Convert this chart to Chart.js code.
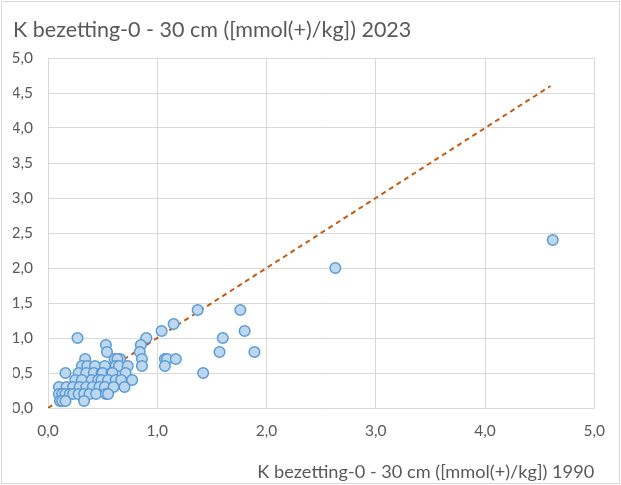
<!DOCTYPE html>
<html>
<head>
<meta charset="utf-8">
<script src="https://cdn.jsdelivr.net/npm/chart.js@4/dist/chart.umd.min.js"></script>
<style>
  body { margin: 0; background: #fff; }
  #wrap { position: absolute; left: 1px; top: 1px; width: 617px; height: 481px; border: 1px solid #d9d9d9; }
</style>
</head>
<body>
<div id="wrap"><canvas id="c" width="617" height="481"></canvas></div>
<script>
// K bezetting 1990 (x) vs 2023 (y)
var x1990 = [
  4.62, 2.63, 1.76, 1.37, 1.15, 1.04, 1.80, 0.90, 1.60, 1.57, 1.89, 1.42,
  1.07, 1.09, 1.17, 1.07, 0.27,
  0.85, 0.84, 0.86, 0.86, 0.53, 0.54,
  0.34, 0.61, 0.66, 0.635,
  0.31, 0.36, 0.43, 0.52, 0.62, 0.65, 0.73,
  0.16, 0.28, 0.35, 0.42, 0.49, 0.50, 0.58, 0.59, 0.71,
  0.25, 0.31, 0.40, 0.46, 0.49, 0.55, 0.62, 0.67, 0.77,
  0.10, 0.17, 0.23, 0.29, 0.35, 0.41, 0.47, 0.52, 0.60, 0.70,
  0.10, 0.13, 0.16, 0.20, 0.23, 0.28, 0.33, 0.38, 0.44, 0.53, 0.55,
  0.11, 0.13, 0.16, 0.33
];
var y2023 = [
  2.4, 2.0, 1.4, 1.4, 1.2, 1.1, 1.1, 1.0, 1.0, 0.8, 0.8, 0.5,
  0.7, 0.7, 0.7, 0.6, 1.0,
  0.9, 0.8, 0.7, 0.6, 0.9, 0.8,
  0.7, 0.7, 0.7, 0.7,
  0.6, 0.6, 0.6, 0.6, 0.6, 0.6, 0.6,
  0.5, 0.5, 0.5, 0.5, 0.5, 0.5, 0.5, 0.5, 0.5,
  0.4, 0.4, 0.4, 0.4, 0.4, 0.4, 0.4, 0.4, 0.4,
  0.3, 0.3, 0.3, 0.3, 0.3, 0.3, 0.3, 0.3, 0.3, 0.3,
  0.2, 0.2, 0.2, 0.2, 0.2, 0.2, 0.2, 0.2, 0.2, 0.2, 0.2,
  0.1, 0.1, 0.1, 0.1
];
var lijnX = [0, 4.6];
var lijnY = [0, 4.6];

var titel = "K bezetting-0 - 30 cm ([mmol(+)/kg]) 2023";
var xTitel = "K bezetting-0 - 30 cm ([mmol(+)/kg]) 1990";

var punten = x1990.map(function (v, i) { return { x: v, y: y2023[i] }; });
var lijn = lijnX.map(function (v, i) { return { x: v, y: lijnY[i] }; });

function komma(v) { return v.toFixed(1).replace(".", ","); }

var grijs = "#d9d9d9";
var tekst = "#595959";

new Chart(document.getElementById("c"), {
  type: "scatter",
  data: {
    datasets: [
      {
        data: punten,
        order: 1,
        pointRadius: 5.3,
        pointHoverRadius: 5.3,
        backgroundColor: "#bdd7ee",
        borderColor: "#5b9bd5",
        borderWidth: 1.5
      },
      {
        type: "line",
        data: lijn,
        order: 2,
        borderColor: "#c55a11",
        borderWidth: 2,
        borderDash: [5, 4],
        pointRadius: 0,
        fill: false
      }
    ]
  },
  options: {
    responsive: false,
    animation: false,
    layout: { padding: { left: 11, right: 17, top: 0, bottom: 0 } },
    plugins: {
      legend: { display: false },
      tooltip: { enabled: false },
      title: {
        display: true,
        text: titel,
        align: "start",
        color: tekst,
        font: { family: "Lato", size: 21.5, weight: "normal" },
        padding: { top: 15, bottom: 15.2 }
      }
    },
    scales: {
      x: {
        type: "linear",
        min: 0,
        max: 5,
        ticks: {
          stepSize: 1,
          color: tekst,
          padding: 14,
          font: { family: "Lato", size: 15.5 },
          callback: komma
        },
        grid: { color: grijs, drawTicks: false },
        border: { color: grijs },
        title: {
          display: true,
          text: xTitel,
          align: "end",
          color: tekst,
          font: { family: "Lato", size: 18.2 },
          padding: { top: 4.6, bottom: 0 }
        },
        afterFit: function (s) { s.height = 75; }
      },
      y: {
        min: 0,
        max: 5,
        ticks: {
          stepSize: 0.5,
          color: tekst,
          padding: 15,
          font: { family: "Lato", size: 15.5 },
          callback: komma
        },
        grid: { color: grijs, drawTicks: false },
        border: { color: grijs },
        afterFit: function (s) { s.width = 35; }
      }
    }
  }
});
</script>
</body>
</html>
